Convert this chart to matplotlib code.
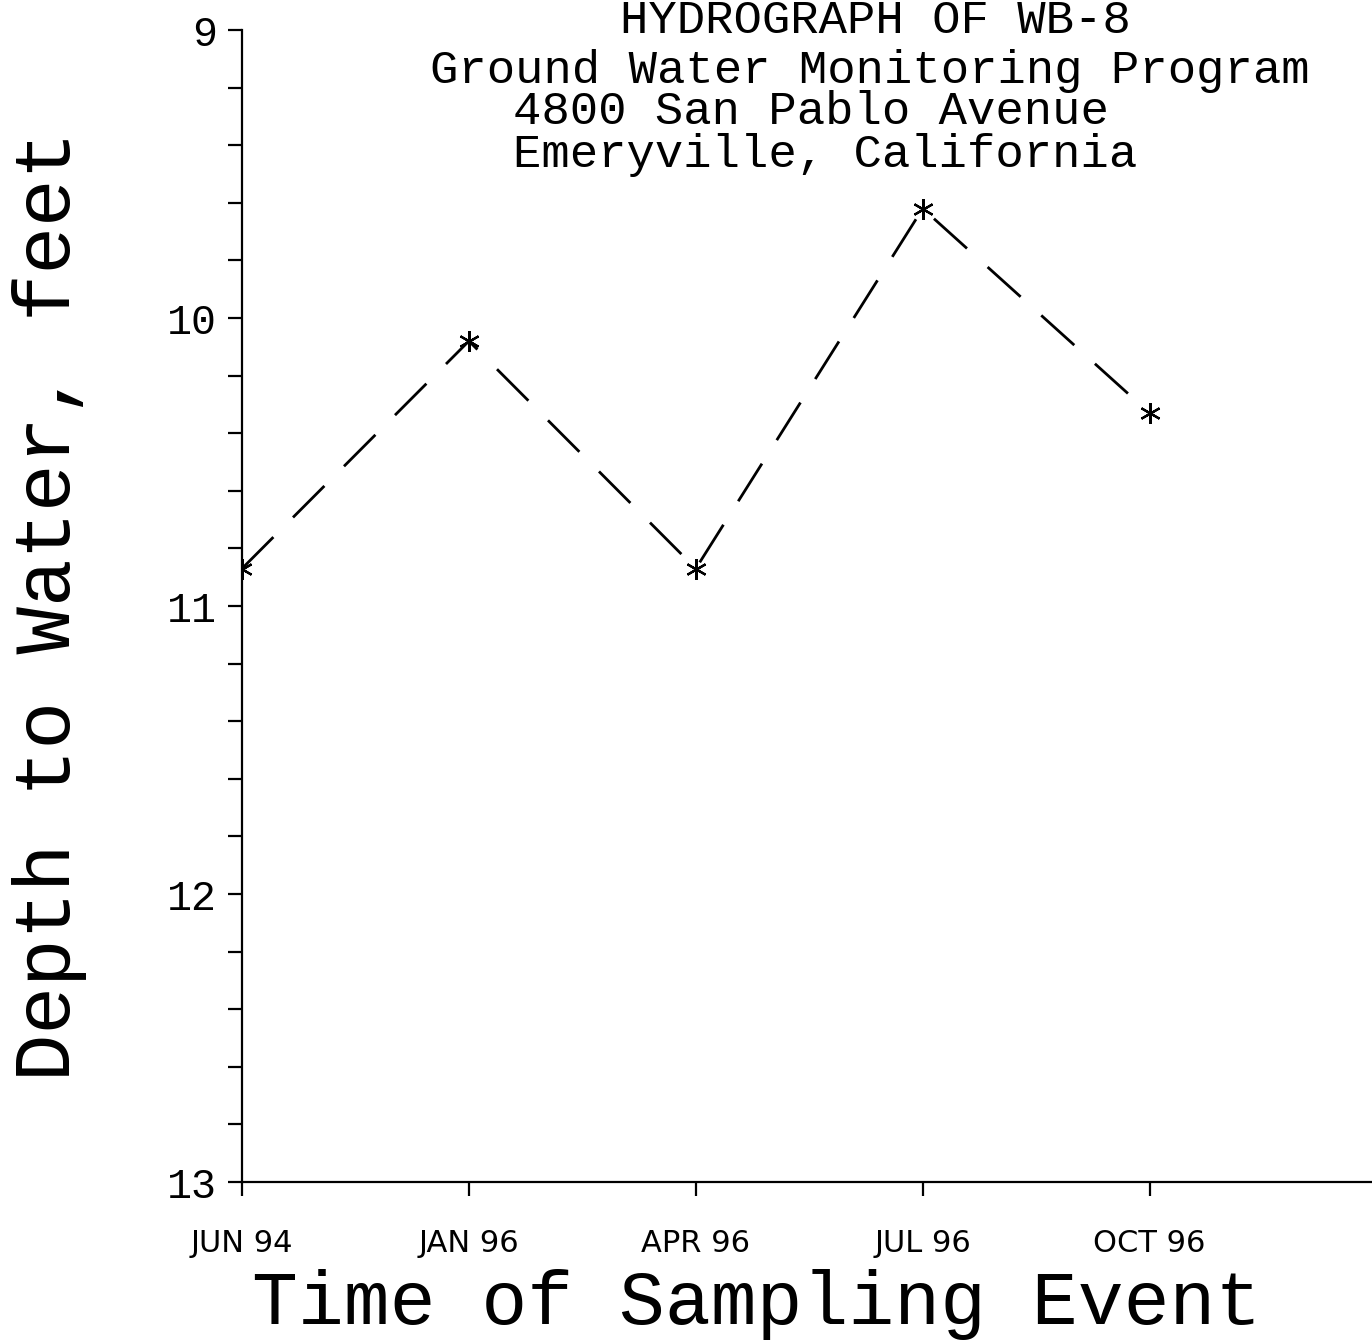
import numpy as np
import matplotlib.pyplot as plt
from matplotlib.ticker import MultipleLocator

# sampling events and depth to water (ft)
events = ['JUN 94', 'JAN 96', 'APR 96', 'JUL 96', 'OCT 96']
depth = [10.87, 10.08, 10.87, 9.62, 10.33]

title_lines = ['HYDROGRAPH OF WB-8',
               'Ground Water Monitoring Program',
               '4800 San Pablo Avenue',
               'Emeryville, California']

mono = 'Liberation Mono'

fig = plt.figure(figsize=(13.72, 13.40), dpi=100)
ax = fig.add_axes([242 / 1372, 1 - 1182 / 1340, 1 - 242 / 1372, (1182 - 30) / 1340])

x = np.arange(len(events))
ax.plot(x, depth, color='black', lw=2, dashes=(16, 10),
        marker=(6, 2, 0), markersize=15, markeredgewidth=1.6)

ax.set_xlim(0, 4.98)
ax.set_ylim(13, 9)
ax.yaxis.set_minor_locator(MultipleLocator(0.2))
ax.set_xticks(x)
ax.set_xticklabels(events, fontsize=22, family='DejaVu Sans')
ax.set_yticks([9, 10, 11, 12, 13])
ax.set_yticklabels(['9', '10', '11', '12', '13'], fontsize=30, family=mono)

for s in ['top', 'right']:
    ax.spines[s].set_visible(False)
for s in ['left', 'bottom']:
    ax.spines[s].set_linewidth(1.6)

ax.tick_params(axis='y', which='both', direction='out', length=10, width=1.6, pad=8)
ax.tick_params(axis='x', direction='out', length=10, width=1.6, pad=24)

ax.set_ylabel('Depth to Water, feet', fontsize=57, family=mono)
ax.yaxis.set_label_coords(-155 / 1130, 0.5)
ax.set_xlabel('Time of Sampling Event', fontsize=55, family=mono)
ax.xaxis.set_label_coords((757 - 242) / 1130, -(1305 - 1182) / 1152)
ax.xaxis.label.set_va('center')

# header block, baselines
title_pos = [(620, 33), (430, 83), (513, 124), (513, 167)]
for txt, (px, py) in zip(title_lines, title_pos):
    fig.text(px / 1372, 1 - py / 1340, txt, fontsize=34, family=mono,
             ha='left', va='baseline')

fig.savefig('out.png', dpi=100)
